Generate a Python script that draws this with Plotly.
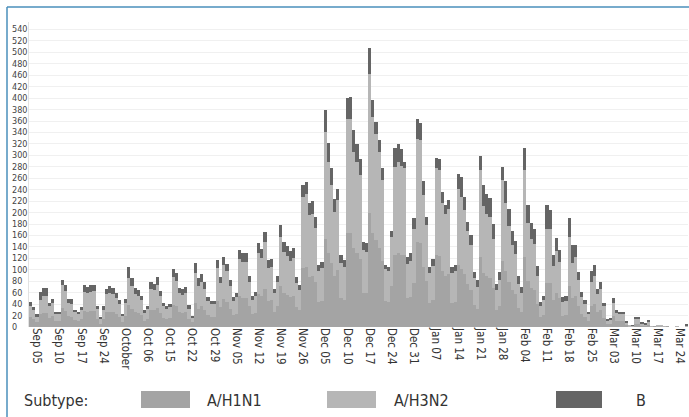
import plotly.graph_objects as go

# Daily case counts (index 0 .. 207)
h1n1 = [17,14,9,22,24,25,16,19,10,10,
        33,28,19,18,12,10,14,28,27,28,
        28,14,6,14,26,27,26,23,18,9,
        19,38,32,26,25,21,11,14,30,29,
        33,24,16,14,16,39,36,27,25,27,
        14,8,42,32,36,30,21,18,18,46,
        35,49,44,32,21,23,54,51,51,36,
        22,24,58,54,67,46,47,27,36,71,
        59,56,52,54,35,29,103,104,88,89,
        78,44,46,153,130,112,90,100,50,47,
        164,164,138,130,119,60,59,199,165,152,
        138,116,45,44,71,126,130,126,125,50,
        52,77,148,147,104,81,42,48,125,124,
        97,89,93,42,44,109,102,92,76,65,
        39,32,123,95,89,86,69,29,37,116,
        97,79,64,57,34,27,123,81,69,65,
        41,17,21,77,77,48,59,51,20,21,
        71,50,55,37,23,18,10,36,41,26,
        30,16,5,6,19,11,10,10,4,1,
        1,6,6,3,2,4,0,1,1,1,
        0,1,0,0,0,0,0,1]

h3n2 = [20,16,10,26,30,30,20,23,13,13,
        40,35,23,23,14,12,16,34,32,34,
        35,17,8,16,31,33,32,28,22,11,
        23,47,40,32,30,26,14,17,37,36,
        41,30,20,17,19,48,44,32,31,32,
        18,9,52,40,43,37,25,22,22,57,
        42,59,53,40,25,29,65,63,62,43,
        26,30,71,67,82,57,57,32,43,87,
        72,68,64,67,42,35,125,128,107,109,
        95,53,57,188,159,137,111,122,62,58,
        200,200,168,158,146,74,72,244,202,186,
        168,141,56,53,87,154,159,155,152,60,
        64,95,180,180,126,98,52,59,152,151,
        119,109,114,52,53,133,125,112,92,79,
        47,38,151,116,109,106,84,36,45,141,
        119,97,79,70,42,32,151,100,85,80,
        49,20,26,95,95,58,73,63,24,25,
        87,61,67,45,29,22,12,43,49,31,
        36,20,6,7,23,14,13,13,4,2,
        1,8,8,3,3,5,1,0,2,1,
        1,0,0,0,1,0,0,2]

b_type = [6,5,3,14,14,13,6,7,4,4,
          10,11,7,8,4,4,5,12,11,12,
          11,5,3,6,10,11,10,9,7,3,
          7,19,13,10,10,8,4,5,12,11,
          13,9,6,5,6,15,14,10,10,11,
          6,3,17,13,14,12,6,6,6,14,
          10,15,13,10,6,7,16,15,16,11,
          6,7,17,16,17,14,14,8,11,20,
          18,17,16,17,10,9,20,21,22,22,
          19,11,11,38,32,28,23,20,13,12,
          37,38,38,32,29,15,15,44,29,20,
          20,20,7,8,10,33,30,30,12,12,
          13,19,35,29,26,13,11,12,19,19,
          20,15,15,11,11,26,35,23,16,16,
          10,12,24,37,35,34,27,11,14,23,
          40,31,25,23,14,11,38,32,27,26,
          16,7,8,41,33,19,23,20,8,8,
          33,33,22,14,9,7,4,19,19,10,
          12,6,2,2,8,5,4,4,1,0,
          1,3,2,1,1,2,0,0,0,0,
          0,0,0,0,0,0,0,1]

days = list(range(len(h1n1)))

x_tick_labels = ["Sep 05","Sep 10","Sep 17","Sep 24","October","Oct 06","Oct 15",
                 "Oct 22","Oct 29","Nov 05","Nov 12","Nov 19","Nov 26","Dec 05",
                 "Dec 10","Dec 17","Dec 24","Dec 31","Jan 07","Jan 14","Jan 21",
                 "Jan 28","Feb 04","Feb 11","Feb 18","Feb 25","Mar 03","Mar 10",
                 "Mar 17","Mar 24"]
y_tick_labels = ["0","20","40","60","80","100","120","140","160","180","200","220",
                 "240","260","280","300","320","340","360","380","400","420","460",
                 "480","500","520","540"]

series_names = ["A/H1N1", "A/H3N2", "B"]
colors = ["#a4a4a4", "#b6b6b6", "#656565"]

FONT = "Liberation Sans Narrow, DejaVu Sans Condensed, Roboto, sans-serif"

fig = go.Figure()
for name, vals, col in zip(series_names, [h1n1, h3n2, b_type], colors):
    fig.add_trace(go.Bar(x=days, y=vals, name=name, marker=dict(color=col, line=dict(width=0)),
                         showlegend=False))

W, H = 689, 417
L, R, T, B = 29, 1, 22, 90
pw, ph = W - L - R, H - T - B

def px(x):
    return (x - L) / pw

def py(y):
    return (H - B - y) / ph

x_tick_pos = [2 + 7 * k for k in range(len(x_tick_labels))]
y_tick_pos = [20 * k for k in range(len(y_tick_labels))]

fig.update_layout(
    width=W, height=H,
    margin=dict(l=L, r=R, t=T, b=B),
    barmode="stack", bargap=0,
    plot_bgcolor="white", paper_bgcolor="white",
    font=dict(family=FONT, color="#333333"),
    xaxis=dict(range=[-0.5, len(days) - 0.5], tickmode="array", tickvals=x_tick_pos,
               ticktext=x_tick_labels, tickangle=90, showgrid=False, zeroline=False,
               showline=False, ticks="", tickfont=dict(size=11.5, color="#333333")),
    yaxis=dict(range=[0, 533], tickmode="array", tickvals=y_tick_pos, showticklabels=False,
               showgrid=True, gridcolor="#f0f0f0", gridwidth=1, zeroline=False,
               showline=True, linecolor="#e2e2e2", linewidth=1, ticks=""),
)

# y tick labels (left aligned)
for v, t in zip(y_tick_pos, y_tick_labels):
    fig.add_annotation(x=px(10), y=v, xref="paper", yref="y", text=t, showarrow=False,
                       xanchor="left", yanchor="middle", font=dict(size=9, color="#444444"))

# legend
fig.add_annotation(x=px(22), y=py(400), xref="paper", yref="paper", text="Subtype:",
                   showarrow=False, xanchor="left", yanchor="middle",
                   font=dict(size=16, color="#333333"))
sw = [(141, 190), (327, 376), (556, 602)]
tx = [205, 392, 634]
for (x0, x1), t, name, col in zip(sw, tx, series_names, colors):
    fig.add_shape(type="rect", xref="paper", yref="paper", x0=px(x0), x1=px(x1),
                  y0=py(391), y1=py(408), fillcolor=col, line=dict(width=0))
    fig.add_annotation(x=px(t), y=py(400), xref="paper", yref="paper", text=name,
                       showarrow=False, xanchor="left", yanchor="middle",
                       font=dict(size=16, color="#333333"))

# frame lines (top + left)
fig.add_shape(type="line", xref="paper", yref="paper", x0=px(7), x1=px(689), y0=py(7), y1=py(7),
              line=dict(color="#4a8fbb", width=1.5))
fig.add_shape(type="line", xref="paper", yref="paper", x0=px(7), x1=px(7), y0=py(7), y1=py(417),
              line=dict(color="#4a8fbb", width=1.5))

fig.write_html("out.html", config={"displayModeBar": False},
               post_script="document.body.style.margin='0px';")
